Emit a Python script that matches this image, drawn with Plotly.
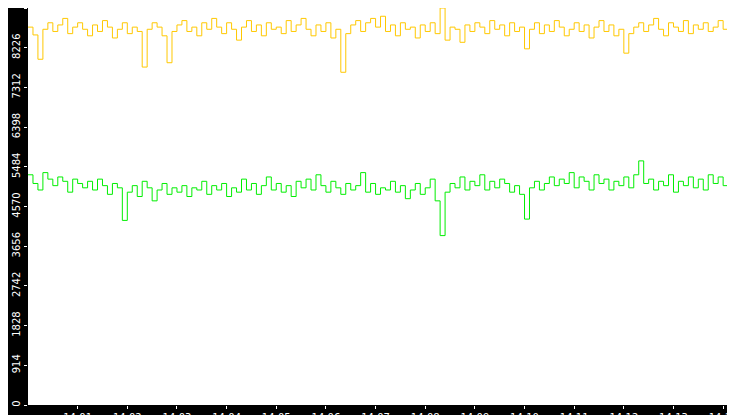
import pandas as pd
import plotly.graph_objs as go

# readings every 6 seconds starting 14:00:00
start = "2024-01-01 14:00:00"
yellow_vals = [
    8700, 8520, 7960, 8650, 8800, 8600, 8750, 8900, 8550, 8700,
    8800, 8650, 8500, 8750, 8600, 8850, 8700, 8450, 8650, 8800,
    8550, 8700, 8600, 7780, 8650, 8800, 8700, 8500, 7880, 8600,
    8750, 8850, 8600, 8700, 8500, 8800, 8650, 8900, 8700, 8550,
    8800, 8650, 8400, 8700, 8850, 8600, 8750, 8500, 8800, 8650,
    8700, 8550, 8850, 8600, 8750, 8900, 8650, 8500, 8750, 8600,
    8800, 8450, 8650, 7660, 8550, 8750, 8850, 8600, 8800, 8900,
    8700, 8950, 8600, 8750, 8500, 8800, 8650, 8700, 8450, 8750,
    8600, 8800, 8550, 9140, 8400, 8700, 8650, 8350, 8750, 8600,
    8800, 8700, 8550, 8850, 8650, 8750, 8500, 8800, 8600, 8700,
    8200, 8650, 8800, 8550, 8750, 8600, 8850, 8700, 8500, 8650,
    8800, 8600, 8750, 8450, 8700, 8850, 8600, 8750, 8500, 8650,
    8100, 8550, 8700, 8800, 8600, 8750, 8900, 8650, 8500, 8800,
    8700, 8600, 8850, 8550, 8750, 8650, 8800, 8600, 8700, 8850,
    8650, 8750, 8550, 8800, 0,
]
green_vals = [
    5300, 5100, 4950, 5350, 5200, 5050, 5250, 5150, 4900, 5200,
    5100, 5000, 5150, 4950, 5200, 5050, 4850, 5100, 5000, 4250,
    4900, 5050, 4800, 5150, 5000, 4700, 4950, 5100, 4850, 5000,
    4900, 5050, 4800, 5000, 4950, 5150, 4850, 5050, 4950, 5100,
    4800, 5000, 4900, 5200, 4950, 5100, 4850, 5050, 5250, 4950,
    5100, 4900, 5050, 4800, 5150, 5000, 5200, 4950, 5300, 5050,
    4900, 5150, 5000, 4850, 5100, 4950, 5050, 5350, 4900, 5100,
    4850, 5000, 4950, 5150, 4900, 5050, 4750, 4950, 5100, 4850,
    5000, 5200, 4700, 3900, 4900, 5100, 5000, 5250, 4950, 5150,
    5050, 5300, 4950, 5150, 5000, 5200, 5100, 4900, 5050, 4850,
    4280, 5000, 5150, 4950, 5100, 5250, 5050, 5200, 5100, 5350,
    5000, 5250, 5150, 4950, 5300, 5100, 5200, 4950, 5150, 5050,
    5250, 5000, 5300, 5620, 5100, 5200, 4950, 5150, 5050, 5300,
    4900, 5150, 5050, 5250, 5000, 5200, 4950, 5300, 5100, 5250,
    5050, 5350, 5150, 5300, 0,
]
y_ticks = [0, 914, 1828, 2742, 3656, 4570, 5484, 6398, 7312, 8226, 9140]
x_ticks = pd.date_range("2024-01-01 14:01:00", periods=14, freq="60s")

times = pd.date_range(start, periods=len(yellow_vals), freq="6s")

fig = go.Figure()
fig.add_trace(go.Scatter(x=times, y=green_vals, mode="lines", line_shape="hv",
                         line=dict(color="#00EE00", width=1)))
fig.add_trace(go.Scatter(x=times, y=yellow_vals, mode="lines", line_shape="hv",
                         line=dict(color="#FFC800", width=1)))

fig.update_layout(
    width=735, height=415,
    margin=dict(l=20, r=0, t=0, b=18, autoexpand=False),
    paper_bgcolor="black", plot_bgcolor="white",
    showlegend=False,
    font=dict(family="DejaVu Sans", size=10, color="white"),
    xaxis=dict(range=["2024-01-01 14:00:00", "2024-01-01 14:14:24"],
               tickvals=x_ticks, tickformat="%H:%M", showgrid=False, zeroline=False,
               ticks="outside", tickcolor="white", ticklen=3, automargin=False),
    yaxis=dict(range=[0, 9140], tickvals=y_ticks, tickangle=-90,
               showgrid=False, zeroline=False, automargin=False,
               ticks="outside", tickcolor="white", ticklen=3),
)

fig.write_html("out.html")
